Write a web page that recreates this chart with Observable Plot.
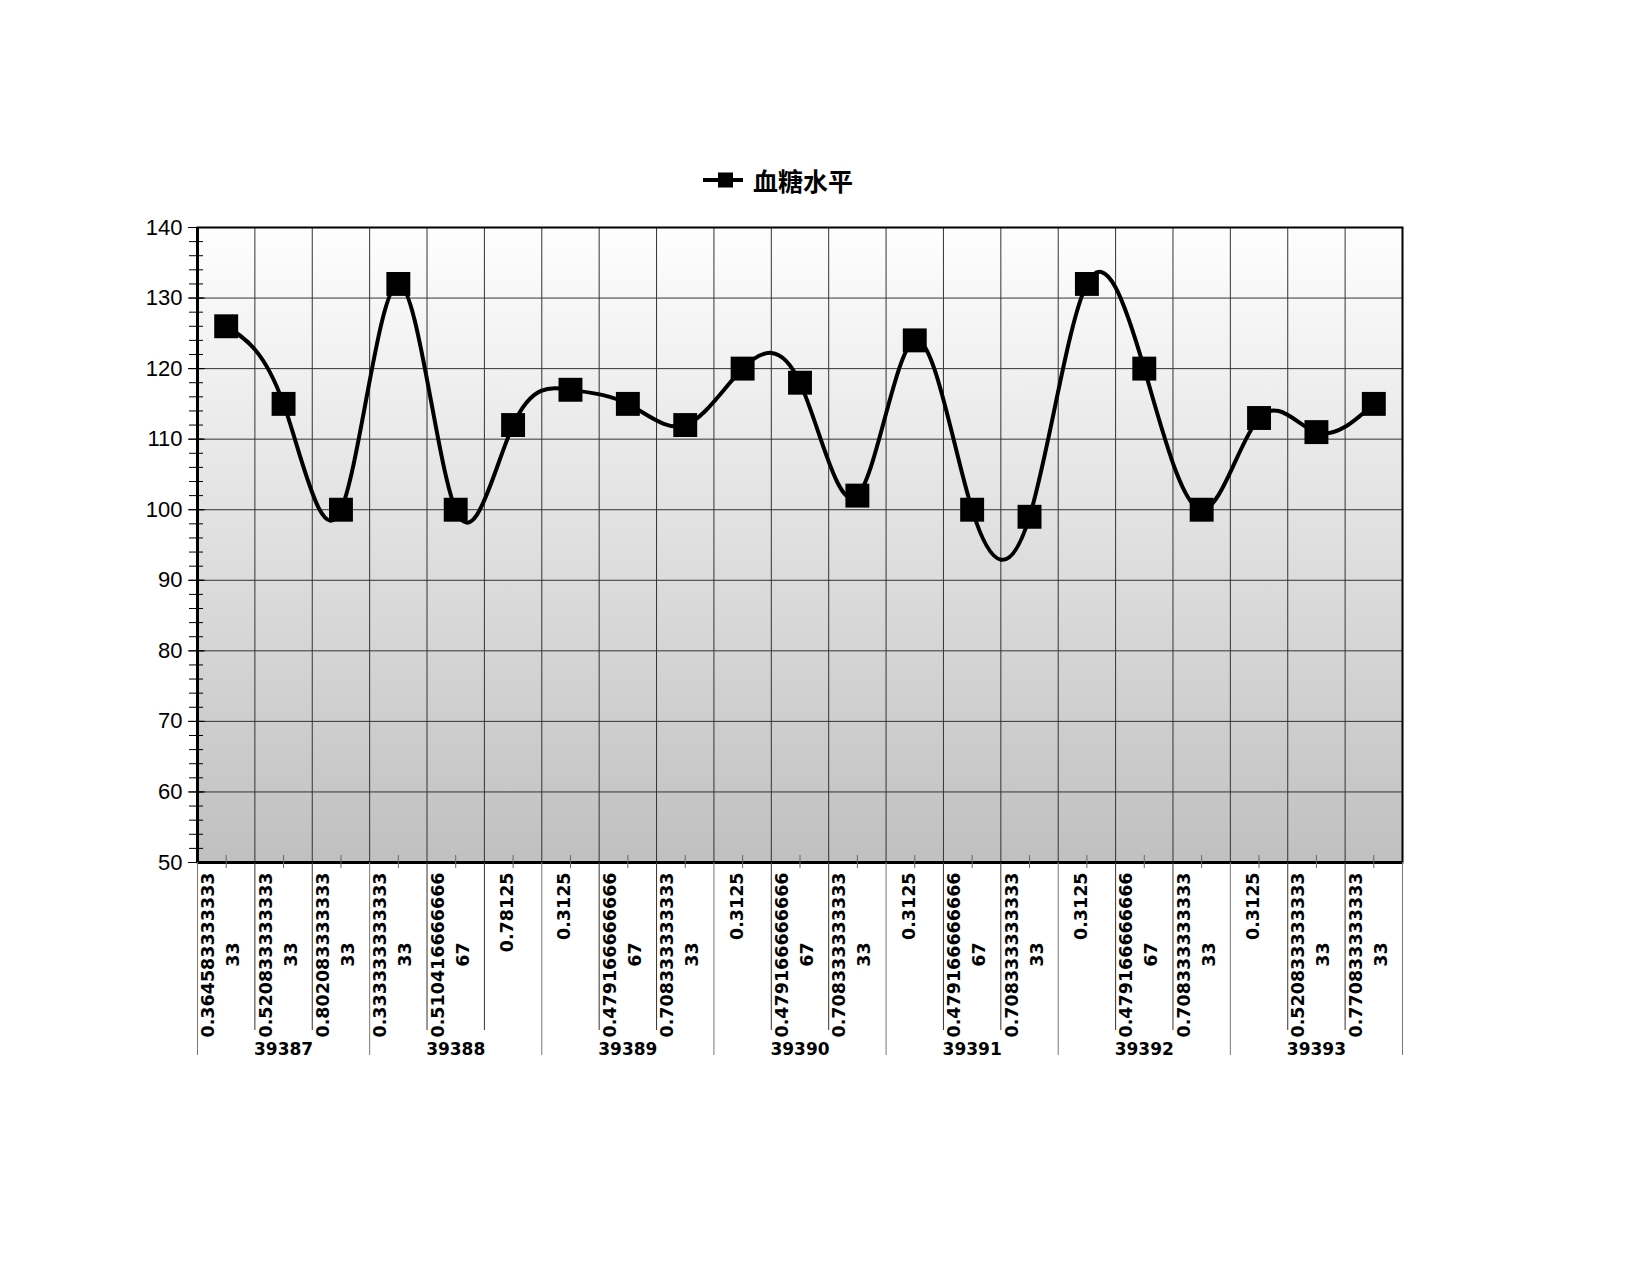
<!DOCTYPE html>
<html><head><meta charset="utf-8">
<script src="https://cdn.jsdelivr.net/npm/d3@7"></script>
<script src="https://cdn.jsdelivr.net/npm/@observablehq/plot@0.6"></script>
<style>
body{margin:0;background:#fff;width:1650px;height:1275px;position:relative;overflow:hidden;font-family:"Liberation Sans",Arial,sans-serif}
#chart{position:absolute;left:0;top:0}
#legend{position:absolute;left:703px;top:163px;height:34px;display:flex;align-items:center;gap:10px;font-family:"Noto Sans CJK SC",sans-serif;font-weight:bold;font-size:25px;color:#000}
#legend svg{display:block}
</style></head><body>
<div id="chart"></div>
<div id="legend"><svg width="40" height="20"><line x1="0" x2="40" y1="10" y2="10" stroke="#000" stroke-width="4"/><rect x="15" y="2.5" width="15" height="15" fill="#000"/></svg><span id="legend-text"></span></div>
<script>
const seriesName = "血糖水平";
const dates = ["39387","39387","39387","39388","39388","39388","39389","39389","39389","39390","39390","39390","39391","39391","39391","39392","39392","39392","39393","39393","39393"];
const times = ["0.36458333333333","0.52083333333333","0.80208333333333","0.33333333333333","0.51041666666667","0.78125","0.3125","0.47916666666667","0.70833333333333","0.3125","0.47916666666667","0.70833333333333","0.3125","0.47916666666667","0.70833333333333","0.3125","0.47916666666667","0.70833333333333","0.3125","0.52083333333333","0.77083333333333"];
const glucose = [126,115,100,132,100,112,117,115,112,120,118,102,124,100,99,132,120,100,113,111,115];
const yTicks = [50,60,70,80,90,100,110,120,130,140];
const yMinorTicks = d3.range(50, 141, 2);

document.getElementById("legend-text").textContent = seriesName;

const n = glucose.length;
const data = glucose.map((v, i) => ({i, x: i + 0.5, v, date: dates[i], t1: times[i].slice(0, 14), t2: times[i].slice(14)}));
const groups = d3.groups(data, d => d.date).map(([date, rows]) => ({
  date, x: d3.mean(rows, d => d.x), start: d3.min(rows, d => d.i)
}));
const groupBounds = [...groups.map(g => g.start), n];
const innerBounds = d3.range(1, n).filter(b => !groupBounds.includes(b));
const centers = data.map(d => d.x);

const bgDefs = () => {
  const defs = d3.create("svg:defs");
  const g = defs.append("linearGradient").attr("id", "bg").attr("x1", 0).attr("y1", 0).attr("x2", 0).attr("y2", 1);
  g.append("stop").attr("offset", "0%").attr("stop-color", "#fefefe");
  g.append("stop").attr("offset", "100%").attr("stop-color", "#c0c0c0");
  return defs.node();
};

const xFont = "DejaVu Sans, sans-serif";
const plot = Plot.plot({
  width: 1650, height: 1275,
  marginLeft: 197, marginRight: 248, marginTop: 227, marginBottom: 413,
  style: {fontFamily: "Liberation Sans, Arial, sans-serif", background: "transparent", color: "#000"},
  x: {type: "linear", domain: [0, n], axis: null, label: null},
  y: {domain: [50, 140], axis: null, label: null},
  marks: [
    bgDefs,
    Plot.frame({fill: "url(#bg)", stroke: "none"}),
    Plot.gridY(yTicks, {stroke: "#333", strokeOpacity: 1, strokeWidth: 1}),
    Plot.gridX(d3.range(1, n), {stroke: "#333", strokeOpacity: 1, strokeWidth: 1}),
    Plot.frame({stroke: "#000", strokeWidth: 2}),
    Plot.ruleX([0], {stroke: "#000", strokeWidth: 3}),
    Plot.ruleY([50], {stroke: "#000", strokeWidth: 3}),
    Plot.axisY(yMinorTicks, {tickSize: 14, dx: 6, fill: "none", stroke: "#000", label: null}),
    Plot.axisY(yTicks, {tickSize: 17, dx: 8, fill: "none", stroke: "#000", label: null}),
    Plot.axisY(yTicks, {tickSize: 0, tickPadding: 15, fontSize: 22, fill: "#000", label: null, tickFormat: d => String(d)}),
    Plot.axisX(innerBounds, {tickSize: 168, stroke: "#333", fill: "none", label: null}),
    Plot.axisX(groupBounds, {tickSize: 193, stroke: "#777", fill: "none", label: null}),
    Plot.axisX(centers, {tickSize: 13, dy: -7, stroke: "#666", fill: "none", label: null}),
    Plot.line(data, {x: "x", y: "v", curve: "natural", stroke: "#000", strokeWidth: 4}),
    Plot.dot(data, {x: "x", y: "v", symbol: "square", r: 13.5, fill: "#000", stroke: "none"}),
    Plot.text(data.filter(d => !d.t2), {x: "x", text: "t1", frameAnchor: "bottom", rotate: -90, textAnchor: "end", dy: 10, fontSize: 17.5, fontWeight: "bold", fontFamily: xFont, fill: "#000"}),
    Plot.text(data.filter(d => d.t2), {x: "x", text: "t1", frameAnchor: "bottom", rotate: -90, textAnchor: "end", dy: 10, dx: -12, fontSize: 17.5, fontWeight: "bold", fontFamily: xFont, fill: "#000"}),
    Plot.text(data.filter(d => d.t2), {x: "x", text: "t2", frameAnchor: "bottom", rotate: -90, textAnchor: "middle", dy: 92, dx: 13, fontSize: 17.5, fontWeight: "bold", fontFamily: xFont, fill: "#000"}),
    Plot.text(groups, {x: "x", text: "date", frameAnchor: "bottom", dy: 192, fontSize: 17, fontWeight: "bold", fontFamily: xFont, fill: "#000"})
  ]
});
document.getElementById("chart").appendChild(plot);
</script>
</body></html>
